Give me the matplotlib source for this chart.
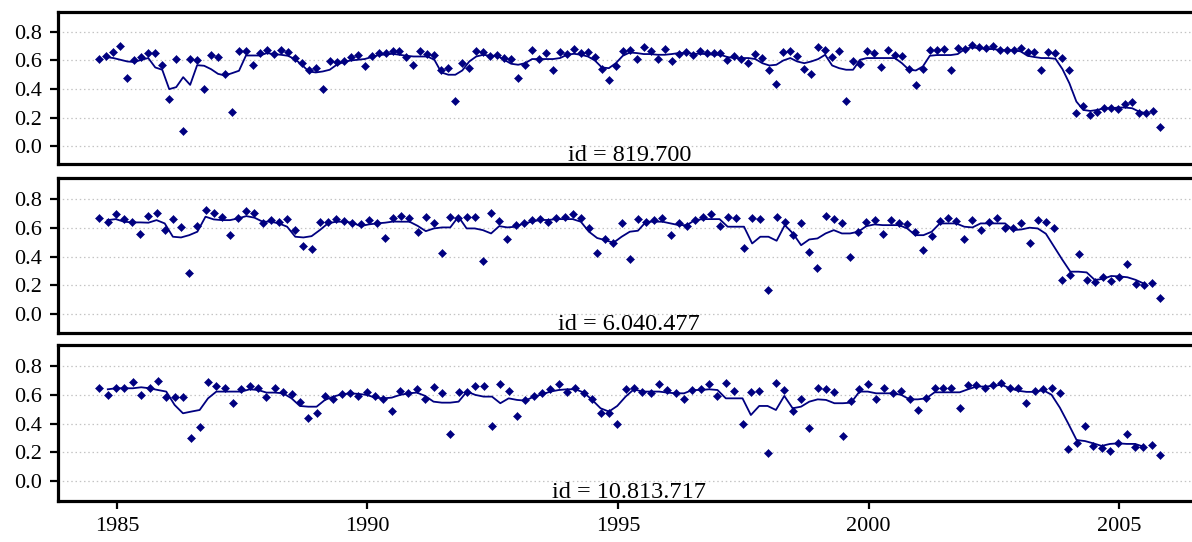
import numpy as np
import pandas as pd
import matplotlib
matplotlib.use("Agg")
import matplotlib.pyplot as plt
import matplotlib.ticker as mticker

nan = np.nan

# ---------------- data ----------------
# regular acquisition grid per pixel id (first / last observation, number of observations)
first_obs = "1984-08-27"
last_obs = "2005-10-25"
n_obs = [153, 131, 128]
ids = ["id = 819.700", "id = 6.040.477", "id = 10.813.717"]

p1_vals = [0.610, 0.633, 0.656, 0.703, 0.476, 0.605, 0.621, 0.652, 0.652, 0.567,
           0.333, 0.612, 0.106, 0.612, 0.605, 0.401, 0.635, 0.621, 0.506, 0.241,
           0.664, 0.664, 0.567, 0.652, 0.673, 0.645, 0.673, 0.656, 0.614, 0.581,
           0.535, 0.546, 0.401, 0.598, 0.586, 0.598, 0.621, 0.635, 0.558, 0.628,
           0.652, 0.652, 0.664,
           0.664, 0.624, 0.565, 0.664, 0.647, 0.640, 0.530, 0.549, 0.317, 0.581,
           0.546, 0.664, 0.656, 0.628, 0.638, 0.617, 0.610, 0.476, 0.565, 0.671,
           0.610, 0.652, 0.535, 0.656, 0.645, 0.682, 0.652, 0.656, 0.621, 0.542,
           0.460, 0.558, 0.664, 0.675, 0.610, 0.692, 0.664, 0.610, 0.682, 0.593,
           0.647, 0.659, 0.640, 0.664, 0.652, 0.652, 0.652, 0.600, 0.628, 0.610,
           0.581, 0.645, 0.617, 0.535, 0.436, 0.656,
           0.664, 0.628, 0.539, 0.506, 0.692, 0.673, 0.621, 0.664, 0.319, 0.598,
           0.574, 0.664, 0.652, 0.551, 0.673, 0.640, 0.628, 0.542, 0.429, 0.537,
           0.673, 0.673, 0.680, 0.530, 0.687, 0.680, 0.710, 0.694, 0.687, 0.699,
           0.671, 0.671, 0.671, 0.687, 0.656, 0.656, 0.530, 0.656, 0.652, 0.617,
           0.530, 0.234, 0.281, 0.218, 0.241, 0.265, 0.265, 0.258, 0.295, 0.312,
           0.234, 0.234, 0.249, 0.136]

p1_line = [nan,
           0.624, 0.617, 0.605, 0.593, 0.589, 0.605, 0.617, 0.551, 0.535, 0.399,
           0.413, 0.483, 0.429, 0.567, 0.563, 0.539, 0.506, 0.495, 0.511, 0.528,
           0.635, 0.635, 0.635, 0.652, 0.645, 0.640, 0.633, 0.610, 0.570, 0.523,
           0.516, 0.523, 0.535, 0.570, 0.589, 0.600, 0.605, 0.610, 0.624, 0.638,
           0.642, 0.647,
           0.640, 0.633, 0.628, 0.628, 0.628, 0.605, 0.516, 0.500, 0.500, 0.530,
           0.593, 0.628, 0.640, 0.633, 0.633, 0.605, 0.577, 0.570, 0.581, 0.610,
           0.610, 0.610, 0.610, 0.617, 0.640, 0.647, 0.640, 0.628, 0.600, 0.551,
           0.546, 0.581, 0.633, 0.656, 0.652, 0.645, 0.645, 0.640, 0.640, 0.645,
           0.652, 0.652, 0.647, 0.647, 0.645, 0.640, 0.640, 0.624, 0.617, 0.617,
           0.617, 0.610, 0.581, 0.565, 0.570, 0.600,
           0.617, 0.593, 0.581, 0.593, 0.610, 0.640, 0.565, 0.546, 0.535, 0.535,
           0.605, 0.617, 0.617, 0.617, 0.617, 0.617, 0.581, 0.535, 0.530, 0.558,
           0.633, 0.638, 0.638, 0.638, 0.645, 0.680, 0.692, 0.687, 0.680, 0.680,
           0.675, 0.671, 0.671, 0.664, 0.633, 0.624, 0.617, 0.617, 0.612, 0.540,
           0.440, 0.312, 0.253, 0.246, 0.253, 0.265, 0.265, 0.270, 0.270, 0.265,
           0.241, 0.230, nan, nan]

p2_vals = [0.672, 0.639, 0.695, 0.662, 0.639, 0.557, 0.686, 0.702, 0.585, 0.662,
           0.604, 0.287, 0.613, 0.725, 0.702, 0.679, 0.550, 0.672, 0.718, 0.702,
           0.637, 0.655, 0.641, 0.662, 0.585, 0.476, 0.452, 0.639, 0.639, 0.662,
           0.648, 0.637, 0.625, 0.655, 0.637, 0.527, 0.672,
           0.683, 0.672, 0.574, 0.679, 0.632, 0.422, 0.679, 0.667, 0.679, 0.679,
           0.371, 0.702, 0.651, 0.520, 0.621, 0.632, 0.656, 0.660, 0.644, 0.667,
           0.679, 0.695, 0.667, 0.602, 0.422, 0.522, 0.497, 0.632, 0.387, 0.662,
           0.644, 0.656, 0.667, 0.550, 0.637, 0.613, 0.656, 0.679, 0.695, 0.616,
           0.679, 0.667, 0.462, 0.667, 0.662, 0.170, 0.679, 0.644,
           0.550, 0.632, 0.434, 0.324, 0.686, 0.662, 0.632, 0.399, 0.574, 0.639,
           0.655, 0.557, 0.655, 0.632, 0.627, 0.569, 0.445, 0.543, 0.651, 0.672,
           0.648, 0.520, 0.655, 0.585, 0.639, 0.672, 0.597, 0.597, 0.632, 0.497,
           0.655, 0.639, 0.602, 0.236, 0.271, 0.415, 0.240, 0.224, 0.259, 0.229,
           0.259, 0.348, 0.212, 0.205, 0.219, 0.114]

p2_line = [nan,
           0.655, 0.662, 0.644, 0.639, 0.639, 0.637, 0.655, 0.632, 0.539, 0.534,
           0.550, 0.574, 0.679, 0.660, 0.655, 0.655, 0.667, 0.683, 0.672, 0.644,
           0.644, 0.632, 0.609, 0.539, 0.534, 0.543, 0.585, 0.632, 0.644, 0.644,
           0.637, 0.613, 0.625, 0.632, 0.637, 0.645,
           0.644, 0.644, 0.615, 0.578, 0.597, 0.604, 0.604, 0.679, 0.597, 0.597,
           0.585, 0.562, 0.613, 0.604, 0.609, 0.632, 0.644, 0.656, 0.656, 0.662,
           0.662, 0.662, 0.644, 0.574, 0.530, 0.515, 0.497, 0.539, 0.574, 0.581,
           0.644, 0.644, 0.644, 0.632, 0.620, 0.620, 0.656, 0.662, 0.662, 0.662,
           0.609, 0.609, 0.609, 0.492, 0.539, 0.539, 0.511, 0.620,
           0.562, 0.480, 0.520, 0.527, 0.562, 0.585, 0.562, 0.562, 0.574, 0.613,
           0.625, 0.620, 0.620, 0.620, 0.597, 0.550, 0.550, 0.574, 0.632, 0.632,
           0.632, 0.609, 0.604, 0.632, 0.632, 0.632, 0.632, 0.585, 0.590, 0.602,
           0.597, 0.560, 0.470, 0.380, 0.295, 0.295, 0.290, 0.237, 0.245, 0.265,
           0.262, 0.256, 0.238, 0.212, nan, nan]

p3_vals = [0.650, 0.599, 0.645, 0.645, 0.687, 0.599, 0.645, 0.696, 0.582, 0.582,
           0.582, 0.302, 0.374, 0.691, 0.661, 0.645, 0.541, 0.638, 0.661, 0.645,
           0.582, 0.645, 0.622, 0.603, 0.552, 0.436, 0.471, 0.594, 0.568, 0.603,
           0.615, 0.592, 0.622, 0.592, 0.568, 0.490, 0.629,
           0.610, 0.638, 0.568, 0.657, 0.615, 0.325, 0.622, 0.622, 0.661, 0.661,
           0.383, 0.673, 0.629, 0.452, 0.564, 0.594, 0.610, 0.638, 0.673, 0.622,
           0.650, 0.610, 0.568, 0.475, 0.470, 0.397, 0.638, 0.650, 0.622, 0.615,
           0.673, 0.633, 0.610, 0.568, 0.633, 0.638, 0.673, 0.592, 0.680, 0.629,
           0.397, 0.617, 0.629, 0.193, 0.684, 0.633,
           0.490, 0.568, 0.371, 0.645, 0.638, 0.622, 0.316, 0.557, 0.638, 0.673,
           0.568, 0.645, 0.610, 0.629, 0.568, 0.494, 0.580, 0.645, 0.645, 0.645,
           0.510, 0.668, 0.668, 0.645, 0.668, 0.684, 0.645, 0.645, 0.541, 0.629,
           0.638, 0.645, 0.615, 0.220, 0.267, 0.385, 0.244, 0.227, 0.211, 0.267,
           0.325, 0.234, 0.234, 0.251, 0.181]

p3_line = [nan,
           0.638, 0.645, 0.645, 0.645, 0.652, 0.645, 0.633, 0.622, 0.529, 0.471,
           0.483, 0.494, 0.575, 0.622, 0.622, 0.622, 0.622, 0.638, 0.633, 0.615,
           0.615, 0.610, 0.575, 0.522, 0.517, 0.517, 0.564, 0.587, 0.603, 0.610,
           0.606, 0.599, 0.580, 0.575, 0.580, 0.599,
           0.610, 0.615, 0.592, 0.552, 0.545, 0.545, 0.552, 0.622, 0.599, 0.587,
           0.587, 0.541, 0.575, 0.564, 0.559, 0.587, 0.603, 0.622, 0.633, 0.638,
           0.638, 0.615, 0.564, 0.506, 0.483, 0.522, 0.587, 0.638, 0.622, 0.622,
           0.622, 0.615, 0.610, 0.610, 0.633, 0.633, 0.638, 0.633, 0.575, 0.575,
           0.575, 0.459, 0.522, 0.522, 0.494, 0.592,
           0.506, 0.517, 0.552, 0.568, 0.564, 0.541, 0.541, 0.545, 0.622, 0.622,
           0.610, 0.610, 0.610, 0.599, 0.568, 0.568, 0.575, 0.617, 0.617, 0.617,
           0.617, 0.638, 0.657, 0.657, 0.661, 0.670, 0.645, 0.628, 0.620, 0.620,
           0.632, 0.600, 0.510, 0.400, 0.285, 0.278, 0.262, 0.244, 0.258, 0.262,
           0.258, 0.258, 0.239, nan, nan]

values = [p1_vals, p2_vals, p3_vals]
lines = [p1_line, p2_line, p3_line]
year_ticks = [1985, 1990, 1995, 2000, 2005]
y_ticks = [0.0, 0.2, 0.4, 0.6, 0.8]

# ---------------- style ----------------
plt.rcParams['font.family'] = ['Liberation Serif', 'DejaVu Serif']
navy = '#000080'
W, H = 1192, 542

fig = plt.figure(figsize=(W / 100, H / 100), dpi=100)
fig.patch.set_facecolor('white')

# panel frames in pixel space (top, bottom)
panel_px = [(12, 164), (178, 333), (345, 501)]
ylims = [(-0.126, 0.940), (-0.133, 0.949), (-0.139, 0.946)]
left_px, right_px = 58, 1194
xlim = (pd.Timestamp("1983-10-30"), pd.Timestamp("2006-06-29"))

for i in range(3):
    top, bot = panel_px[i]
    ax = fig.add_axes([left_px / W, 1 - bot / H, (right_px - left_px) / W, (bot - top) / H])
    dates = pd.date_range(first_obs, last_obs, periods=n_obs[i])
    ax.plot(dates, lines[i], color=navy, lw=1.3, zorder=3)
    ax.plot(dates, values[i], linestyle='none', marker='D', ms=3.7,
            color=navy, mec=navy, mew=0.4, zorder=4)
    ax.set_xlim(*xlim)
    ax.set_ylim(*ylims[i])
    ax.set_yticks(y_ticks)
    ax.yaxis.set_major_formatter(mticker.FormatStrFormatter('%.1f'))
    ax.grid(axis='y', color='#c4c4c4', linestyle=(0, (1.2, 2.2)), lw=0.9, zorder=0)
    ax.grid(axis='x', visible=False)
    for s in ax.spines.values():
        s.set_linewidth(2.3)
        s.set_color('black')
    ax.tick_params(axis='y', direction='out', length=5.5, width=1.6, pad=6,
                   labelsize=16, colors='black')
    if i < 2:
        ax.tick_params(axis='x', bottom=False, labelbottom=False)
    else:
        ax.set_xticks([pd.Timestamp(f"{y}-01-01") for y in year_ticks])
        ax.set_xticklabels([str(y) for y in year_ticks])
        ax.tick_params(axis='x', direction='out', length=5.5, width=1.6, pad=6,
                       labelsize=16, colors='black')
    ax.text(0.503, 0.022, ids[i], transform=ax.transAxes, ha='center',
            va='baseline', fontsize=17.5, color='black', zorder=5)

fig.savefig("out.png", dpi=100, facecolor='white')
